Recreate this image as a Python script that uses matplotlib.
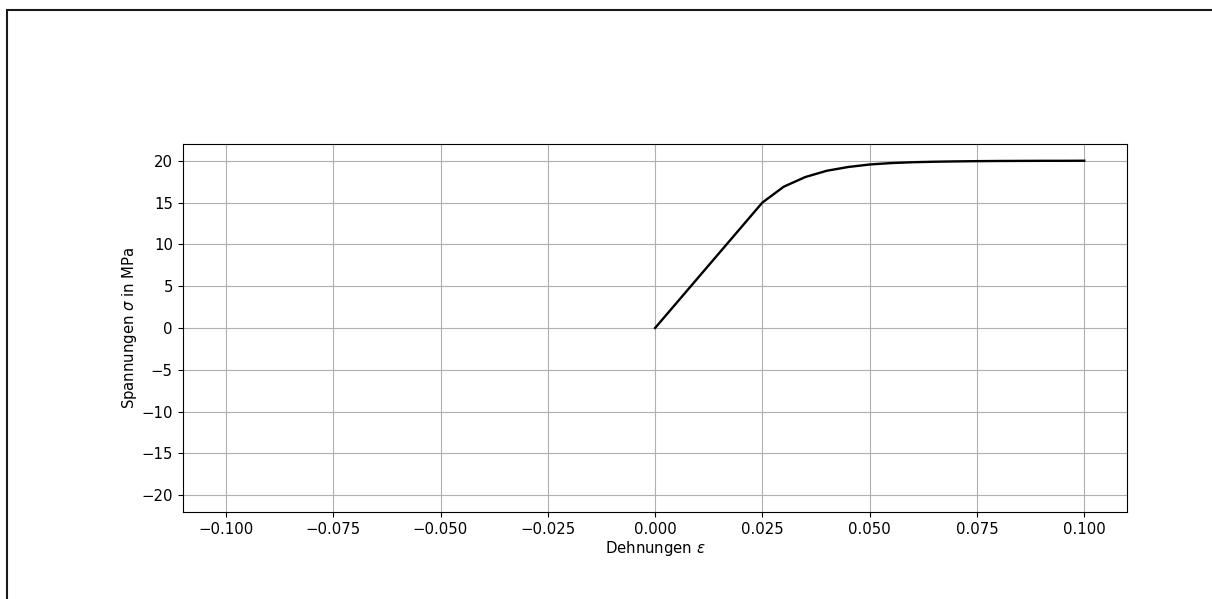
import numpy as np
import matplotlib
matplotlib.use("Agg")
import matplotlib.pyplot as plt
from matplotlib.patches import Rectangle

# Dehnungen und Spannungen
strain = [0.0, 0.025, 0.030, 0.035, 0.040, 0.045, 0.050, 0.055, 0.060,
          0.065, 0.070, 0.075, 0.080, 0.085, 0.090, 0.095, 0.100]
stress = [0.0, 15.0, 16.9, 18.05, 18.8, 19.25, 19.55, 19.72, 19.82,
          19.88, 19.92, 19.95, 19.97, 19.98, 19.99, 19.99, 20.0]

xticks = [-0.100, -0.075, -0.050, -0.025, 0.000, 0.025, 0.050, 0.075, 0.100]
yticks = [-20, -15, -10, -5, 0, 5, 10, 15, 20]

plt.rcParams['font.size'] = 10.7
plt.rcParams['xtick.major.size'] = 3.8
plt.rcParams['ytick.major.size'] = 3.8

fig = plt.figure(figsize=(12.12, 5.99), dpi=100)
ax = fig.add_axes([0.151, 0.1452, 0.779, 0.6144])

ax.plot(strain, stress, color='black', linewidth=1.7)
ax.set_xlim(-0.11, 0.11)
ax.set_ylim(-22, 22)
ax.set_xticks(xticks)
ax.set_yticks(yticks)
ax.grid(True)
ax.set_xlabel(r'Dehnungen $\varepsilon$', labelpad=1.5)
ax.set_ylabel(r'Spannungen $\sigma$ in MPa', labelpad=1.5)

#  Rahmen um die Figur (rechts und unten abgeschnitten)
frame = Rectangle((7 / 1212, -0.1), 1.2, 1 - 9.5 / 599 + 0.1,
                  transform=fig.transFigure, fill=False,
                  edgecolor='#1a1a1a', linewidth=1.5, clip_on=False)
fig.patches.append(frame)

fig.savefig('out.png', dpi=100)
